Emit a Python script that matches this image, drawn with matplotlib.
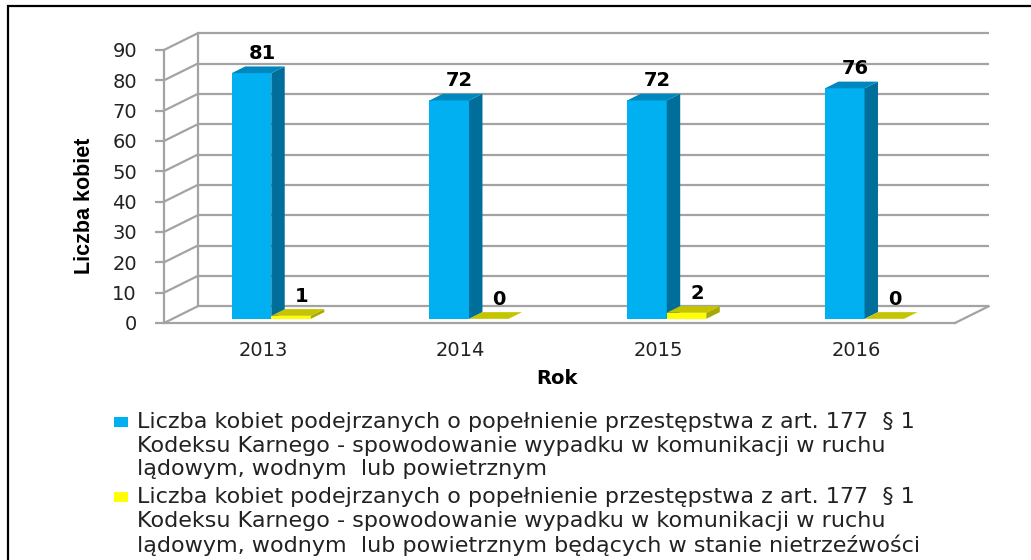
import matplotlib.pyplot as plt
from matplotlib.patches import Polygon, Rectangle

# data
years = ['2013', '2014', '2015', '2016']
suspects_all = [81, 72, 72, 76]
suspects_drunk = [1, 0, 2, 0]
y_ticks = list(range(0, 100, 10))
series_labels = [
    "Liczba kobiet podejrzanych o popełnienie przestępstwa z art. 177  § 1\n"
    "Kodeksu Karnego - spowodowanie wypadku w komunikacji w ruchu\n"
    "lądowym, wodnym  lub powietrznym",
    "Liczba kobiet podejrzanych o popełnienie przestępstwa z art. 177  § 1\n"
    "Kodeksu Karnego - spowodowanie wypadku w komunikacji w ruchu\n"
    "lądowym, wodnym  lub powietrznym będących w stanie nietrzeźwości",
]

# pseudo-3D depth vector (data units) and bar geometry
DX, DY = 0.17, 5.5
BAR_W = 0.2
F0, F1 = 0.25, 0.65          # bar front / back depth fraction
GRID = '#a3a3a3'

styles = [
    dict(front='#00B0F0', side='#006E9A', top='#0088BE'),
    dict(front='#FFFF00', side='#A8A800', top='#C4C400'),
]

W, H = 1031, 560
fig = plt.figure(figsize=(W / 100, H / 100), dpi=100)
ax = fig.add_axes([164 / W, 237 / H, 824.6 / W, 290 / H])
ax.set_xlim(-0.5, 3.5 + DX)
ax.set_ylim(0, 95.6)

# back wall + floor
for v in y_ticks:
    ax.plot([-0.5, -0.5 + DX], [v, v + DY], color=GRID, lw=1.6, zorder=1,
            clip_on=False, solid_capstyle='butt')
    ax.plot([-0.5 + DX, 3.5 + DX], [v + DY, v + DY], color=GRID, lw=1.6,
            zorder=1, clip_on=False, solid_capstyle='butt')
ax.plot([-0.5 + DX, -0.5 + DX], [DY, 90 + DY], color=GRID, lw=1.6, zorder=1,
        clip_on=False)
ax.plot([3.5, 3.5 + DX], [0, DY], color=GRID, lw=1.6, zorder=1, clip_on=False)

for k, (values, st) in enumerate(zip([suspects_all, suspects_drunk], styles)):
    xs = [i - BAR_W + k * BAR_W for i in range(len(years))]
    ax.bar([x + F0 * DX for x in xs], values, width=BAR_W, bottom=F0 * DY,
           align='edge', color=st['front'], lw=0, zorder=3 + k)
    for x0, h in zip(xs, values):
        xr = x0 + BAR_W
        side = [(xr + F0 * DX, F0 * DY), (xr + F1 * DX, F1 * DY),
                (xr + F1 * DX, h + F1 * DY), (xr + F0 * DX, h + F0 * DY)]
        top = [(x0 + F0 * DX, h + F0 * DY), (xr + F0 * DX, h + F0 * DY),
               (xr + F1 * DX, h + F1 * DY), (x0 + F1 * DX, h + F1 * DY)]
        ax.add_patch(Polygon(side, closed=True, fc=st['side'], lw=0, zorder=3 + k))
        ax.add_patch(Polygon(top, closed=True, fc=st['top'], lw=0, zorder=3 + k))
        ax.annotate(str(h), (x0 + BAR_W / 2 + 0.5 * DX + 0.01, h + F1 * DY),
                    xytext=(0, 2.5), textcoords='offset points', ha='center',
                    va='bottom', fontsize=14, fontweight='bold', zorder=6)

# axes styling
for s in ['top', 'right']:
    ax.spines[s].set_visible(False)
ax.spines['left'].set_bounds(0, 90)
ax.spines['bottom'].set_bounds(-0.5, 3.5)
for s in ['left', 'bottom']:
    ax.spines[s].set_color(GRID)
    ax.spines[s].set_linewidth(1.6)
ax.set_yticks(y_ticks)
ax.set_xticks(range(len(years)))
ax.set_xticklabels(years)
ax.tick_params(axis='y', length=6.5, width=1.6, color=GRID, pad=13,
               labelsize=14, labelcolor='#222222')
ax.tick_params(axis='x', length=0, pad=13, labelsize=14, labelcolor='#222222')
ax.set_facecolor('none')

fig.text(85 / W, 1 - 206 / H, 'Liczba kobiet', rotation=90, ha='center',
         va='center', fontsize=15.5, fontweight='bold',
         family=['Liberation Sans', 'DejaVu Sans'])
fig.text(557 / W, 1 - 378 / H, 'Rok', ha='center', va='center', fontsize=14,
         fontweight='bold')

# legend
leg_tops = [412, 487]
for st, lab, ytop in zip(styles, series_labels, leg_tops):
    fig.patches.append(Rectangle((114 / W, 1 - (ytop + 15) / H), 14 / W, 10 / H,
                                 transform=fig.transFigure, fc=st['front'], lw=0))
    fig.text(137 / W, 1 - ytop / H, lab, ha='left', va='top', fontsize=16,
             family=['DejaVu Sans'], color='#222222', linespacing=1.22)

# outer frame (runs off the right and bottom edges)
fig.patches.append(Rectangle((8 / W, -0.1), 1.2, 1.1 - 6 / H,
                             transform=fig.transFigure, fill=False,
                             ec='black', lw=1.6))

fig.savefig('out.png', dpi=100)
